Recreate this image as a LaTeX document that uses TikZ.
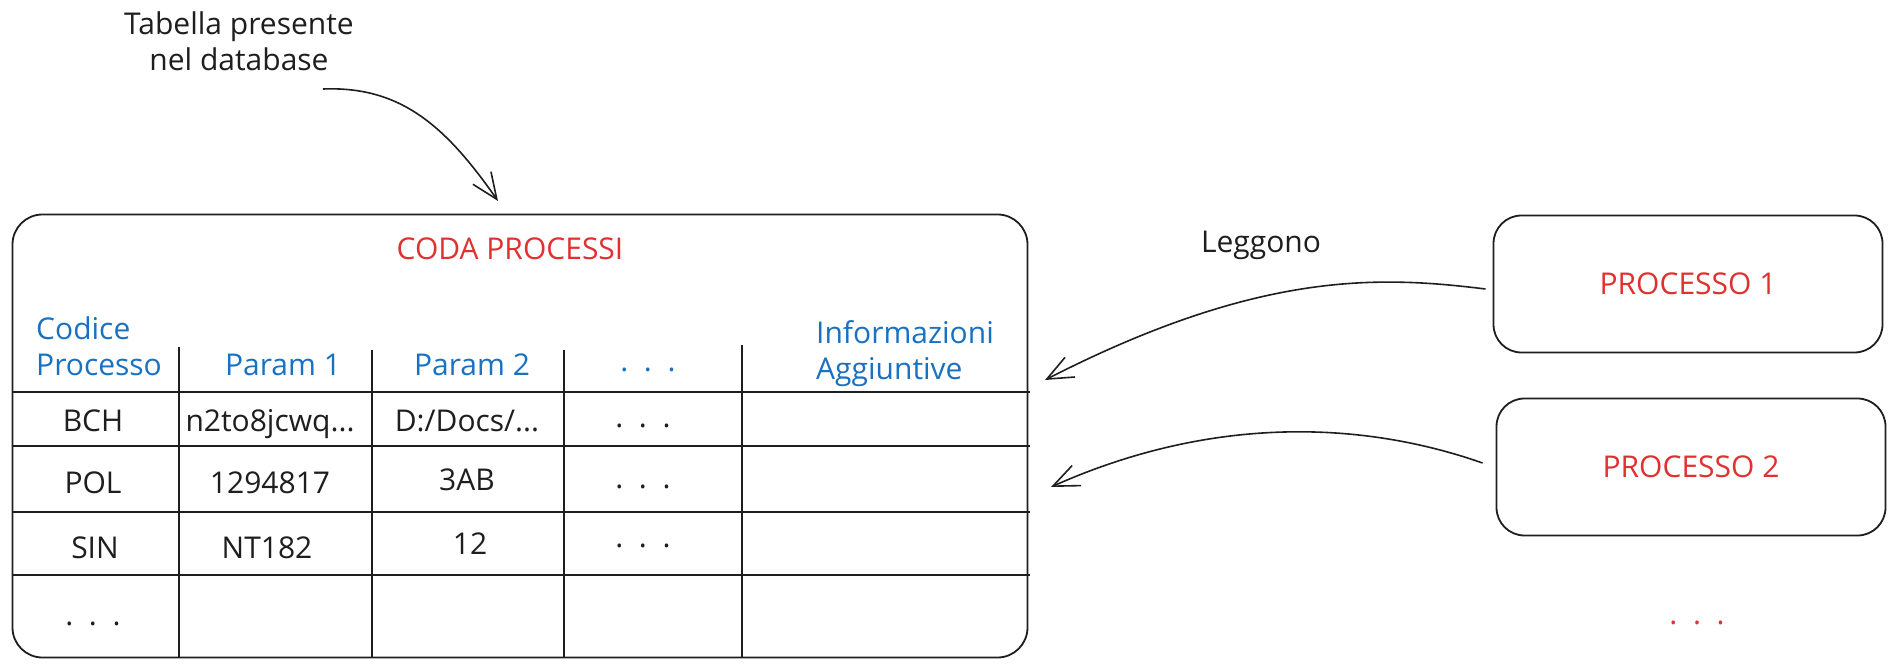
\documentclass[tikz,border=0pt]{standalone}
\usepackage{fontspec}
\setmainfont{Open Sans}
\usetikzlibrary{arrows.meta}
\definecolor{inkblack}{HTML}{1E1E1E}
\definecolor{inkred}{HTML}{E03131}
\definecolor{inkblue}{HTML}{1971C2}
\begin{document}
\begin{tikzpicture}[x=1pt,y=-1pt,
  font=\fontsize{30}{36}\selectfont,
  tablebox/.style={draw=inkblack,line width=1.8pt,rounded corners=30pt,inner sep=0pt,outer sep=0pt},
  procbox/.style={draw=inkblack,line width=1.8pt,rounded corners=28pt,inner sep=0pt,outer sep=0pt,
     minimum width=389pt,minimum height=137pt,text=inkred},
  gridline/.style={draw=inkblack,line width=1.8pt},
  conn/.style={draw=inkblack,line width=1.6pt,-{Straight Barb[length=26pt,width=22pt]}},
  lbl/.style={text=inkblack,inner sep=0pt,anchor=base},
  hdr/.style={text=inkblue,inner sep=0pt,anchor=base},
  redtxt/.style={text=inkred,inner sep=0pt,anchor=base}]
\useasboundingbox (0,0) rectangle (1891,668);

% annotation
\node[lbl,align=center,anchor=north] (note) at (239,12) {Tabella presente\\nel database};
\coordinate (a0) at (323,89);
\coordinate (a1) at (498,201);

% table
\node[tablebox,minimum width=1015pt,minimum height=443pt] (tab) at (520,436) {};
\node[redtxt] (title) at (510,260) {CODA PROCESSI};

% grid
\draw[gridline] (13,392) -- (1030,392);
\draw[gridline] (13,446) -- (1030,446);
\draw[gridline] (13,512) -- (1030,512);
\draw[gridline] (13,575) -- (1030,575);
\draw[gridline] (179,347) -- (179,657);
\draw[gridline] (372,350) -- (372,657);
\draw[gridline] (564,350) -- (564,657);
\draw[gridline] (742,345) -- (742,657);

% header
\node[hdr,anchor=base west] (hc1) at (36,340) {Codice};
\node[hdr,anchor=base west] (hc2) at (36,375) {Processo};
\node[hdr] (hp1) at (283,375) {Param 1};
\node[hdr] (hp2) at (472,375) {Param 2};
\node[hdr] (hdots) at (648,372) {.\ \ .\ \ .};
\node[hdr,anchor=base west] (hi1) at (816,344) {Informazioni};
\node[hdr,anchor=base west] (hi2) at (816,380) {Aggiuntive};

% rows
\node[lbl] (r1a) at (93,431) {BCH};
\node[lbl] (r1b) at (270,431) {n2to8jcwq...};
\node[lbl] (r1c) at (467,431) {D:/Docs/...};
\node[lbl] (r1d) at (643,428) {.\ \ .\ \ .};
\node[lbl] (r2a) at (93,493) {POL};
\node[lbl] (r2b) at (270,493) {1294817};
\node[lbl] (r2c) at (467,490) {3AB};
\node[lbl] (r2d) at (643,488) {.\ \ .\ \ .};
\node[lbl] (r3a) at (95,558) {SIN};
\node[lbl] (r3b) at (267,558) {NT182};
\node[lbl] (r3c) at (470,554) {12};
\node[lbl] (r3d) at (643,547) {.\ \ .\ \ .};
\node[lbl] (r4a) at (93,625) {.\ \ .\ \ .};

% processes
\node[procbox] (p1) at (1688,284) {PROCESSO 1};
\node[procbox] (p2) at (1691,467) {PROCESSO 2};
\node[redtxt] (pdots) at (1697,624) {.\ \ .\ \ .};
\node[lbl] (legg) at (1261,253) {Leggono};
\coordinate (e1) at (1045,380);
\coordinate (e2) at (1051,487);

% connectors
\draw[conn] (a0) .. controls (400,86) and (445,125) .. (a1);
\draw[conn] ([xshift=-8pt,yshift=-5pt]p1.west) .. controls (1380,276) and (1260,270) .. (e1);
\draw[conn] ([xshift=-14pt,yshift=4pt]p2.west) .. controls (1360,420) and (1210,416) .. (e2);
\end{tikzpicture}
\end{document}
